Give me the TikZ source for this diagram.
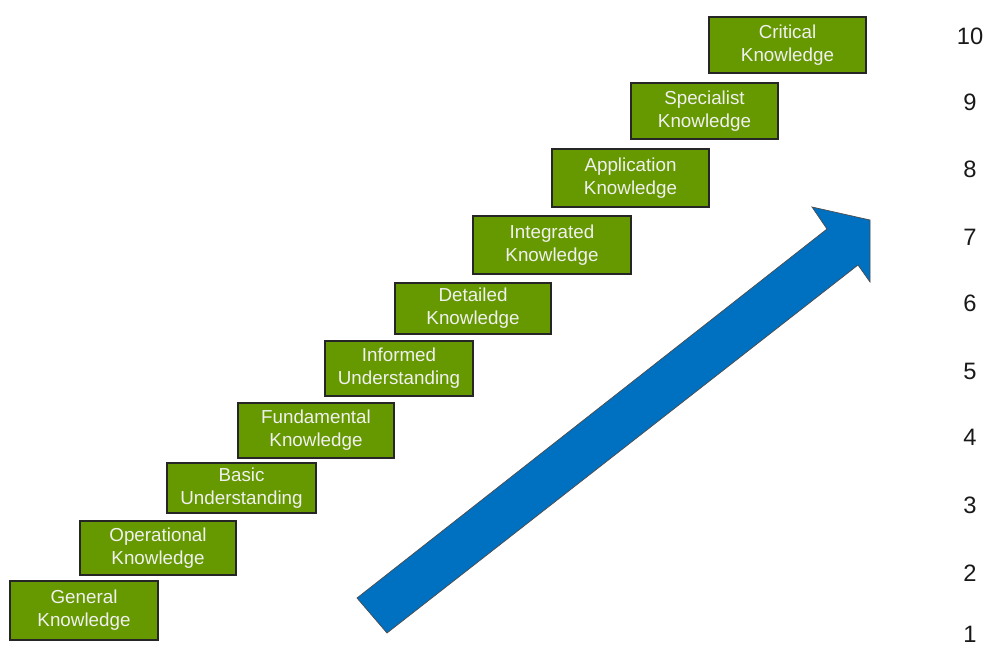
\documentclass[tikz,border=0pt]{standalone}
\usepackage{fontspec}
\setmainfont{Liberation Sans}
\usepackage{tikz}
\usetikzlibrary{positioning}
\definecolor{stepgreen}{RGB}{102,153,0}
\definecolor{arrowblue}{RGB}{0,112,192}
\tikzstyle{level} = [rectangle, draw=black!85, line width=0.6pt, fill=stepgreen, text=white!94!black, align=center, font=\fontsize{10.7}{13.1}\selectfont, inner sep=0pt]
\tikzstyle{num} = [font=\fontsize{13.5}{15}\selectfont, text=black!90, inner sep=0pt]
\tikzstyle{bigarrow} = [fill=arrowblue, draw=black!70, line width=0.4pt, line join=miter]

\begin{document}
\begin{tikzpicture}[x=0.02cm, y=-0.02cm]
        \useasboundingbox (0,0) rectangle (988,646);
        \node (lvl1) [level, minimum width=2.96cm, minimum height=1.18cm] at (84,610.5) {General\\Knowledge};
        \node (lvl2) [level, minimum width=3.12cm, minimum height=1.08cm] at (158,548) {Operational\\Knowledge};
        \node (lvl3) [level, minimum width=2.98cm, minimum height=1.00cm] at (241.5,488) {Basic\\Understanding};
        \node (lvl4) [level, minimum width=3.12cm, minimum height=1.10cm] at (316,430.5) {Fundamental\\Knowledge};
        \node (lvl5) [level, minimum width=2.96cm, minimum height=1.10cm] at (399,368.5) {Informed\\Understanding};
        \node (lvl6) [level, minimum width=3.12cm, minimum height=1.02cm] at (473,308.5) {Detailed\\Knowledge};
        \node (lvl7) [level, minimum width=3.16cm, minimum height=1.16cm] at (552,245) {Integrated\\Knowledge};
        \node (lvl8) [level, minimum width=3.14cm, minimum height=1.16cm] at (630.5,178) {Application\\Knowledge};
        \node (lvl9) [level, minimum width=2.94cm, minimum height=1.12cm] at (704.5,111) {Specialist\\Knowledge};
        \node (lvl10) [level, minimum width=3.14cm, minimum height=1.12cm] at (787.5,45) {Critical\\Knowledge};
        % scale on the right
        \foreach \n/\y in {10/36, 9/102, 8/169, 7/237, 6/303, 5/371, 4/437, 3/505, 2/573, 1/634}
            \node (num\n) [num] at (970,\y) {\n};
        % rising arrow
        \draw [bigarrow] (357,598) -- (827,229) -- (812,207) -- (870,220) -- (870,282) -- (858,265) -- (387,633) -- cycle;
    \end{tikzpicture}
\end{document}
